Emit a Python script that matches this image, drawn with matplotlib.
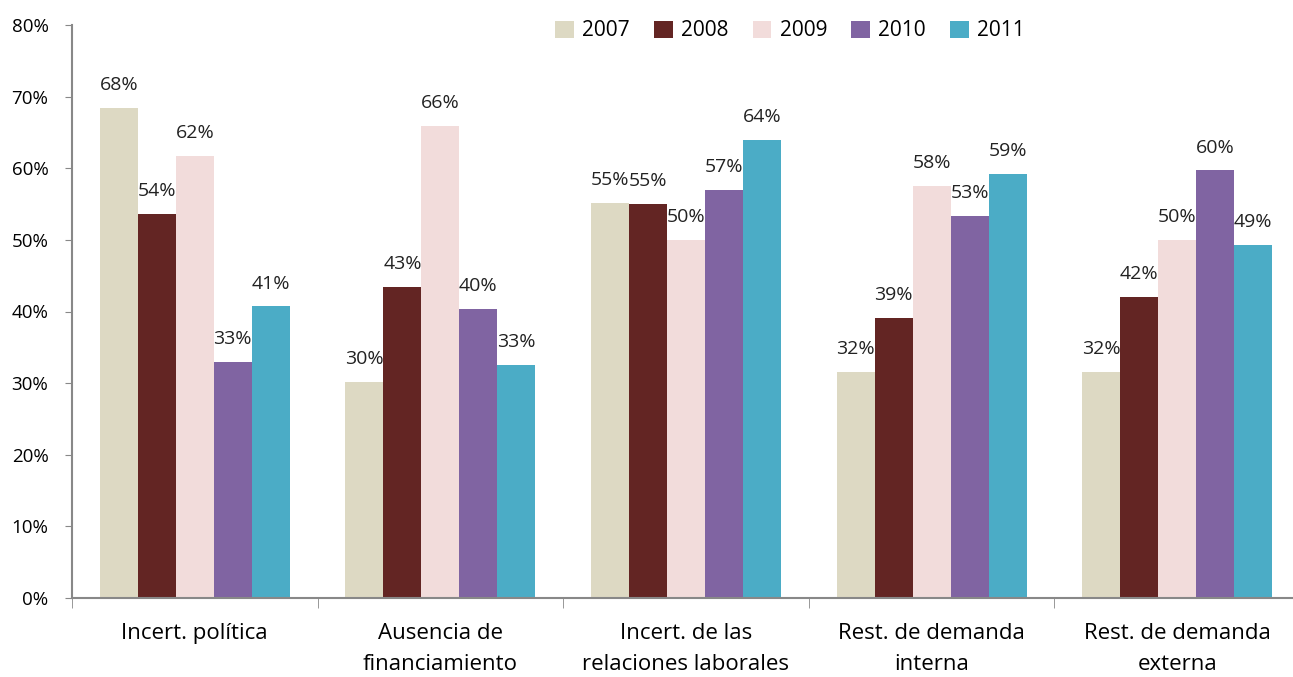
import numpy as np
import matplotlib
matplotlib.use('Agg')
import matplotlib.pyplot as plt

plt.rcParams['font.family'] = ['Open Sans', 'DejaVu Sans']

categories = ['Incert. política', 'Ausencia de\nfinanciamiento', 'Incert. de las\nrelaciones laborales',
              'Rest. de demanda\ninterna', 'Rest. de demanda\nexterna']
years = ['2007', '2008', '2009', '2010', '2011']
v2007 = [68.4, 30.2, 55.2, 31.6, 31.6]
v2008 = [53.6, 43.4, 55.0, 39.1, 42.0]
v2009 = [61.7, 65.9, 50.0, 57.5, 50.0]
v2010 = [32.9, 40.3, 57.0, 53.3, 59.7]
v2011 = [40.7, 32.6, 63.9, 59.2, 49.3]
colors = ['#DDD9C3', '#632523', '#F2DCDB', '#8064A2', '#4BACC6']

series = [v2007, v2008, v2009, v2010, v2011]

fig = plt.figure(figsize=(12.93, 6.77), dpi=100)
ax = fig.add_axes([72 / 1293, 79 / 677, 1228 / 1293, 573 / 677])

x = np.arange(len(categories))
w = 0.1547
for i, (vals, c, yr) in enumerate(zip(series, colors, years)):
    pos = x + (i - 2) * w
    ax.bar(pos, vals, w, color=c, label=yr)
    for px, v in zip(pos, vals):
        ax.annotate('%d%%' % round(v), (px, v), xytext=(0, 10), textcoords='offset points',
                    ha='center', va='bottom', fontsize=14, color='#222222')

ax.set_xlim(-0.5, 4.5)
ax.set_ylim(0, 80)
ax.set_yticks(np.arange(0, 81, 10))
ax.set_yticklabels(['%d%%' % t for t in range(0, 81, 10)], fontsize=13.5)
ax.set_xticks(x)
ax.set_xticklabels(categories, fontsize=16, linespacing=1.65)
ax.set_xticks(np.arange(-0.5, 4.6, 1), minor=True)
ax.tick_params(axis='x', which='major', length=0, pad=18)
ax.tick_params(axis='x', which='minor', length=7, color='#888888', direction='out')
ax.tick_params(axis='y', length=5, color='#888888', direction='out', pad=12)
for s in ['top', 'right']:
    ax.spines[s].set_visible(False)
for s in ['left', 'bottom']:
    ax.spines[s].set_color('#888888')
    ax.spines[s].set_linewidth(1.5)

fig.legend(loc='center', bbox_to_anchor=(790 / 1293, 1 - 31 / 677), ncol=5, frameon=False,
           fontsize=15, handlelength=0.9, handleheight=0.9, handletextpad=0.4, columnspacing=1.15)

fig.savefig('out.png', dpi=100)
